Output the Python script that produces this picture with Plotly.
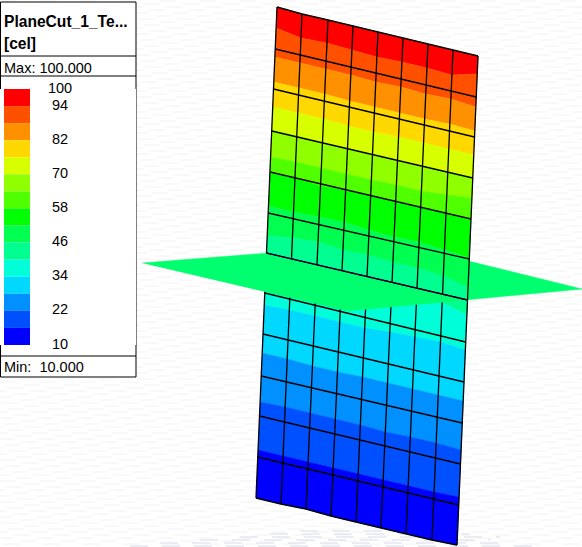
import numpy as np
import plotly.graph_objects as go

# Legend: temperature levels, one colour per band (hottest first)
levels = [100, 94, 88, 82, 76, 70, 64, 58, 52, 46, 40, 34, 28, 22, 16, 10]
band_colors = ['#ff0000', '#ff5000', '#ff9000', '#ffd800', '#d8ff00', '#90ff00', '#50ff00', '#00ff00',
               '#00ff50', '#00ff90', '#00ffd8', '#00d8ff', '#0090ff', '#0050ff', '#0000ff']
tick_values = [100, 94, 82, 70, 58, 46, 34, 22, 10]
tick_labels = ['100', '94', '82', '70', '58', '46', '34', '22', '10']

# Plate outline, one entry per mesh column
col_top_x = [277, 302, 328, 353, 378, 403, 428, 453, 478]
col_top_y = [7, 14, 20, 26, 32, 38, 44, 50, 56]
col_bot_x = [256, 281, 306, 331, 356, 381, 406, 432, 457]
col_bot_y = [498, 504, 509, 516, 522, 528, 534, 540, 545]

# Where each colour band ends, read down every mesh column
band_edges = [
    [28, 38, 43, 50, 57, 62, 68, 75, 74],
    [57, 63, 69, 75, 82, 87, 94, 99, 107],
    [82, 88, 94, 101, 107, 113, 119, 124, 131],
    [107, 113, 119, 126, 132, 137, 143, 149, 155],
    [130, 136, 143, 149, 155, 161, 167, 172, 178],
    [157, 162, 168, 174, 180, 185, 191, 195, 198],
    [173, 178, 186, 190, 196, 201, 207, 213, 219],
    [206, 212, 217, 222, 230, 237, 242, 250, 258],
    [236, 238, 242, 250, 255, 262, 268, 276, 287],
    [268, 274, 280, 286, 292, 297, 302, 303, 315],
    [305, 310, 316, 322, 328, 332, 337, 342, 350],
    [353, 359, 366, 372, 377, 383, 389, 395, 401],
    [402, 407, 413, 419, 425, 432, 437, 443, 450],
    [450, 456, 462, 468, 474, 480, 486, 492, 497],
]

# Mesh rows: y on the left and right plate edges
row_left_y = [49, 89, 131, 172, 213, 253, 293, 334, 376, 416, 457]
row_right_y = [97, 137, 178, 219, 259, 300, 342, 382, 423, 464, 505]
cut_row = 5  # the cut plane passes through this mesh row

# Horizontal cut plane
plane_x = [142, 395, 582, 347]
plane_y = [263, 243, 289, 311]
plane_color = '#00ff6e'

top_x, top_y = np.array(col_top_x, float), np.array(col_top_y, float)
bot_x, bot_y = np.array(col_bot_x, float), np.array(col_bot_y, float)
n_cols = len(col_top_x)


def col_x(y):
    # x on each column line for a y per column
    return top_x + (bot_x - top_x) * (y - top_y) / (bot_y - top_y)


cut_y = np.linspace(row_left_y[cut_row], row_right_y[cut_row], n_cols)
edges = [top_y] + [np.array(e, float) for e in band_edges] + [bot_y]


def band_traces(clip_lo, clip_hi):
    traces = []
    for i, color in enumerate(band_colors):
        upper = np.clip(edges[i], clip_lo, clip_hi)
        lower = np.clip(edges[i + 1], clip_lo, clip_hi)
        xs = np.concatenate([col_x(upper), col_x(lower)[::-1]])
        ys = np.concatenate([upper, lower[::-1]])
        traces.append(go.Scatter(x=xs, y=ys, mode='lines', fill='toself', fillcolor=color,
                                 line=dict(width=0.5, color=color), hoverinfo='skip', showlegend=False))
    return traces


def mesh_trace(rows_left, rows_right, clip_lo, clip_hi):
    xs, ys = [], []
    for yl, yr in zip(rows_left, rows_right):
        y = np.linspace(yl, yr, n_cols)
        xs += list(col_x(y)) + [None]
        ys += list(y) + [None]
    for c in range(n_cols):
        y0 = np.clip(top_y, clip_lo, clip_hi)[c]
        y1 = np.clip(bot_y, clip_lo, clip_hi)[c]
        t0 = (y0 - top_y[c]) / (bot_y[c] - top_y[c])
        t1 = (y1 - top_y[c]) / (bot_y[c] - top_y[c])
        xs += [top_x[c] + (bot_x[c] - top_x[c]) * t0, top_x[c] + (bot_x[c] - top_x[c]) * t1, None]
        ys += [y0, y1, None]
    # outer top or bottom edge of this half
    edge_y = np.clip(top_y, clip_lo, clip_hi) if clip_hi is cut_y else np.clip(bot_y, clip_lo, clip_hi)
    xs += list(col_x(edge_y)) + [None]
    ys += list(edge_y) + [None]
    return go.Scatter(x=xs, y=ys, mode='lines', line=dict(color='black', width=1.3),
                      hoverinfo='skip', showlegend=False)


fig = go.Figure()

# Lower half sits behind the plane, upper half in front of it
for tr in band_traces(cut_y, bot_y):
    fig.add_trace(tr)
fig.add_trace(mesh_trace(row_left_y[cut_row + 1:], row_right_y[cut_row + 1:], cut_y, bot_y))
fig.add_trace(go.Scatter(x=plane_x, y=plane_y, mode='lines', fill='toself', fillcolor=plane_color,
                         line=dict(width=0.5, color=plane_color), hoverinfo='skip', showlegend=False))
for tr in band_traces(top_y, cut_y):
    fig.add_trace(tr)
fig.add_trace(mesh_trace(row_left_y[:cut_row + 1], row_right_y[:cut_row + 1], top_y, cut_y))

# Legend swatches and labels on their own value axis
fig.add_trace(go.Bar(x=[17] * len(band_colors), y=[a - b for a, b in zip(levels[:-1], levels[1:])],
                     base=levels[1:], width=26, marker=dict(color=band_colors, line=dict(width=0)),
                     xaxis='x2', yaxis='y2', hoverinfo='skip', showlegend=False))
fig.add_trace(go.Scatter(x=[60] * len(tick_values), y=tick_values, text=tick_labels, mode='text',
                         textposition='middle center', xaxis='x2', yaxis='y2', hoverinfo='skip',
                         textfont=dict(family='Liberation Sans', size=14.5, color='#000000'),
                         cliponaxis=False, showlegend=False))

# Faint paper texture behind everything
shapes = []
for k, y in enumerate(range(1, 547, 3)):
    shapes.append(dict(type='line', x0=-(k * 17) % 40 - 40, x1=582, y0=y, y1=y, layer='below',
                       line=dict(color='#f2f2f2', width=1, dash='16px,24px')))
for y, x0, x1 in [(531, 300, 400), (534, 270, 470), (537, 240, 500), (540, 200, 490), (543, 160, 510), (546, 130, 540)]:
    shapes.append(dict(type='line', x0=x0, x1=x1, y0=y, y1=y, layer='below',
                       line=dict(color='#d9d9e8', width=1, dash='18px,14px')))
# Legend frame
shapes.append(dict(type='rect', x0=0.5, x1=136, y0=2, y1=377, layer='below', fillcolor='white',
                   line=dict(color='black', width=1)))
for y in [56, 76, 356]:
    shapes.append(dict(type='line', x0=0.5, x1=136, y0=y, y1=y, layer='below', line=dict(color='black', width=1)))

legend_text = [('PlaneCut_1_Te...', 21, True, 15.6), ('[cel]', 43, True, 15.6),
               ('Max: 100.000', 68, False, 14.5), ('Min:  10.000', 367, False, 14.5)]
annotations = []
for text, y, bold, size in legend_text:
    annotations.append(dict(x=2, y=y, xref='x', yref='y', text='<b>%s</b>' % text if bold else text, showarrow=False,
                            xanchor='left', yanchor='middle',
                            font=dict(family='Liberation Sans', size=size, color='#000000')))

fig.update_layout(
    width=582, height=547,
    margin=dict(l=0, r=0, t=0, b=0),
    paper_bgcolor='white', plot_bgcolor='white',
    xaxis=dict(range=[0, 582], domain=[0, 1], visible=False),
    yaxis=dict(range=[547, 0], domain=[0, 1], visible=False),
    xaxis2=dict(range=[0, 136], domain=[0, 136 / 582], visible=False, anchor='y2'),
    yaxis2=dict(range=[10, 100], domain=[1 - 345 / 547, 1 - 89 / 547], visible=False, anchor='x2'),
    shapes=shapes, annotations=annotations,
)

# the page's default body margin would push the figure off the window
fig.write_html("out.html", config=dict(displayModeBar=False),
               post_script="document.body.style.margin='0';document.body.style.overflow='hidden';")
